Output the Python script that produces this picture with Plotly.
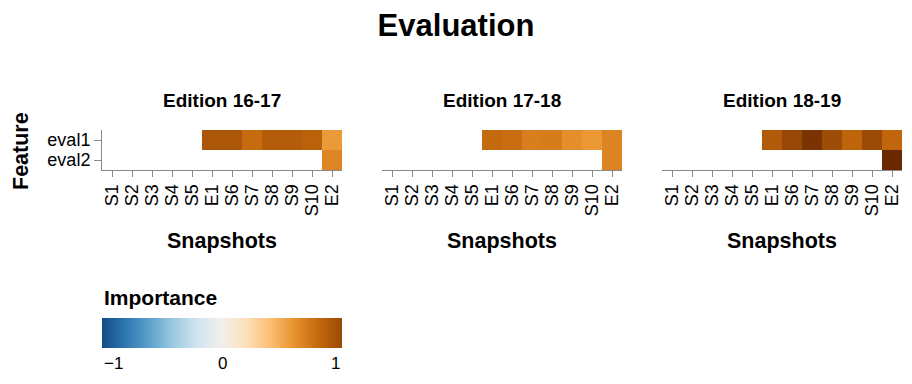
import plotly.graph_objects as go

# ---------------- data ----------------
snapshots = ["S1", "S2", "S3", "S4", "S5", "E1", "S6", "S7", "S8", "S9", "S10", "E2"]
features = ["eval1", "eval2"]
editions = ["Edition 16-17", "Edition 17-18", "Edition 18-19"]

N = None
ed1617_eval1 = [N, N, N, N, N, 0.92, 0.92, 0.79, 0.88, 0.88, 0.85, 0.57]
ed1617_eval2 = [N, N, N, N, N, N, N, N, N, N, N, 0.66]
ed1718_eval1 = [N, N, N, N, N, 0.80, 0.78, 0.70, 0.71, 0.62, 0.58, 0.67]
ed1718_eval2 = [N, N, N, N, N, N, N, N, N, N, N, 0.67]
ed1819_eval1 = [N, N, N, N, N, 0.89, 1.01, 1.14, 0.98, 0.83, 1.00, 0.82]
ed1819_eval2 = [N, N, N, N, N, N, N, N, N, N, N, 1.22]

panels = [
    [ed1617_eval1, ed1617_eval2],
    [ed1718_eval1, ed1718_eval2],
    [ed1819_eval1, ed1819_eval2],
]

# Vega "blueorange" scheme, domain -1 .. 1
scheme_hex = ["#134b85", "#2f78b3", "#5da2cb", "#9dcae1", "#d2e5ef", "#f2f0eb",
              "#fce0ba", "#fbbf74", "#e8932f", "#c5690d", "#994a07"]
legend_ticks = [-1, 0, 1]
legend_ticktext = ["\u22121", "0", "1"]
legend_title = "Importance"
chart_title = "Evaluation"
x_title = "Snapshots"
y_title = "Feature"

# ---------------- colour scales ----------------
def hex2rgb(h):
    h = h.lstrip("#")
    return [int(h[i:i + 2], 16) for i in (0, 2, 4)]

n = len(scheme_hex)
legend_scale = [[i / (n - 1), c] for i, c in enumerate(scheme_hex)]

# the chart's scale extrapolates the last segment for values above 1
all_vals = [v for p in panels for row in p for v in row if v is not None]
zmin = -1.0
zmax = max(1.0, max(all_vals))
step = 2.0 / (n - 1)
stops = [(-1 + i * step, hex2rgb(c)) for i, c in enumerate(scheme_hex)]
if zmax > 1.0:
    a = hex2rgb(scheme_hex[-2]); b = hex2rgb(scheme_hex[-1])
    t = (zmax - 1.0) / step
    ext = [max(0, min(255, round(b[k] + (b[k] - a[k]) * t))) for k in range(3)]
    stops.append((zmax, ext))
data_scale = [[(v - zmin) / (zmax - zmin), "rgb(%d,%d,%d)" % tuple(c)] for v, c in stops]

# ---------------- figure ----------------
W, H = 912, 384
FONT = "Liberation Sans, Arial, Helvetica, sans-serif"
px_x = lambda p: p / W
px_y = lambda p: 1 - p / H

panel_left = [102, 382, 662]
panel_w = 240
plot_top, plot_bot = 130, 170
legend_left, legend_w = 102, 240

fig = go.Figure()
for i, (z_rows, ed) in enumerate(zip(panels, editions)):
    ax = "" if i == 0 else str(i + 1)
    fig.add_trace(go.Heatmap(
        x=snapshots, y=features, z=z_rows,
        coloraxis="coloraxis",
        xaxis="x" + ax, yaxis="y" + ax,
        hoverongaps=False,
    ))
    fig.update_layout(**{
        "xaxis" + ax: dict(
            domain=[px_x(panel_left[i]), px_x(panel_left[i] + panel_w)],
            anchor="y" + ax, type="category",
            categoryorder="array", categoryarray=snapshots,
            tickmode="array", tickvals=snapshots, ticktext=snapshots,
            showline=True, linecolor="#888", linewidth=1,
            ticks="outside", ticklen=6, tickcolor="#888",
            tickangle=-90, tickfont=dict(size=18, color="#000", family=FONT),
            showgrid=False, zeroline=False, fixedrange=True,
        ),
        "yaxis" + ax: dict(
            domain=[px_y(plot_bot), px_y(plot_top)],
            anchor="x" + ax, type="category",
            categoryorder="array", categoryarray=features,
            tickmode="array", tickvals=features, ticktext=features,
            autorange="reversed",
            showline=(i == 0), linecolor="#888", linewidth=1,
            ticks="outside" if i == 0 else "", ticklen=7, tickcolor="#888",
            showticklabels=(i == 0),
            tickfont=dict(size=18, color="#000", family=FONT),
            showgrid=False, zeroline=False, fixedrange=True,
        ),
    })
    fig.add_annotation(
        text=ed, xref="paper", yref="paper",
        x=px_x(panel_left[i] + panel_w / 2), y=px_y(100),
        xanchor="center", yanchor="middle", showarrow=False,
        font=dict(size=19, color="#000", family=FONT, weight="bold"),
    )
    fig.add_annotation(
        text=x_title, xref="paper", yref="paper",
        x=px_x(panel_left[i] + panel_w / 2), y=px_y(241),
        xanchor="center", yanchor="middle", showarrow=False,
        font=dict(size=21.5, color="#000", family=FONT, weight="bold"),
    )

fig.add_annotation(
    text=y_title, xref="paper", yref="paper",
    x=px_x(21), y=px_y(151), textangle=-90,
    xanchor="center", yanchor="middle", showarrow=False,
    font=dict(size=21.5, color="#000", family=FONT, weight="bold"),
)

# legend (colour bar) trace on a hidden axis
fig.add_trace(go.Scatter(
    x=[0, 1], y=[0, 1], mode="markers", xaxis="x4", yaxis="y4",
    hoverinfo="skip", showlegend=False,
    marker=dict(color=[-1, 1], cmin=-1, cmax=1, colorscale=legend_scale,
                opacity=0, size=1, showscale=True,
                colorbar=dict(
                    orientation="h", x=px_x(legend_left), xanchor="left",
                    y=px_y(318), yanchor="top",
                    len=legend_w / W, lenmode="fraction",
                    thickness=30, thicknessmode="pixels",
                    outlinewidth=0, xpad=0, ypad=0,
                    tickvals=legend_ticks, showticklabels=False, ticks="",
                )),
))
fig.update_layout(
    xaxis4=dict(domain=[0.98, 1.0], visible=False, anchor="y4"),
    yaxis4=dict(domain=[0.0, 0.02], visible=False, anchor="x4"),
)
# legend labels: first left-aligned, middle centred, last right-aligned (as in the source)
for k, (v, txt) in enumerate(zip(legend_ticks, legend_ticktext)):
    anchor = "left" if k == 0 else ("right" if k == len(legend_ticks) - 1 else "center")
    fig.add_annotation(
        text=txt, xref="paper", yref="paper",
        x=px_x(legend_left + (v + 1) / 2 * legend_w), y=px_y(363),
        xanchor=anchor, yanchor="middle", showarrow=False,
        font=dict(size=17, color="#000", family=FONT),
    )
fig.add_annotation(
    text=legend_title, xref="paper", yref="paper",
    x=px_x(legend_left), y=px_y(297),
    xanchor="left", yanchor="middle", showarrow=False,
    font=dict(size=21, color="#000", family=FONT, weight="bold"),
)

fig.update_layout(
    width=W, height=H,
    margin=dict(l=0, r=0, t=0, b=0),
    paper_bgcolor="white", plot_bgcolor="white",
    coloraxis=dict(colorscale=data_scale, cmin=zmin, cmax=zmax, showscale=False),
    title=dict(text=chart_title, x=0.5, xanchor="center", y=px_y(25), yanchor="middle",
               font=dict(size=31, color="#000", family=FONT, weight="bold")),
    font=dict(family=FONT, color="#000"),
    showlegend=False,
)

fig.write_html("out.html", config={"displayModeBar": False},
               post_script="document.body.style.margin='0';document.body.style.padding='0';")
